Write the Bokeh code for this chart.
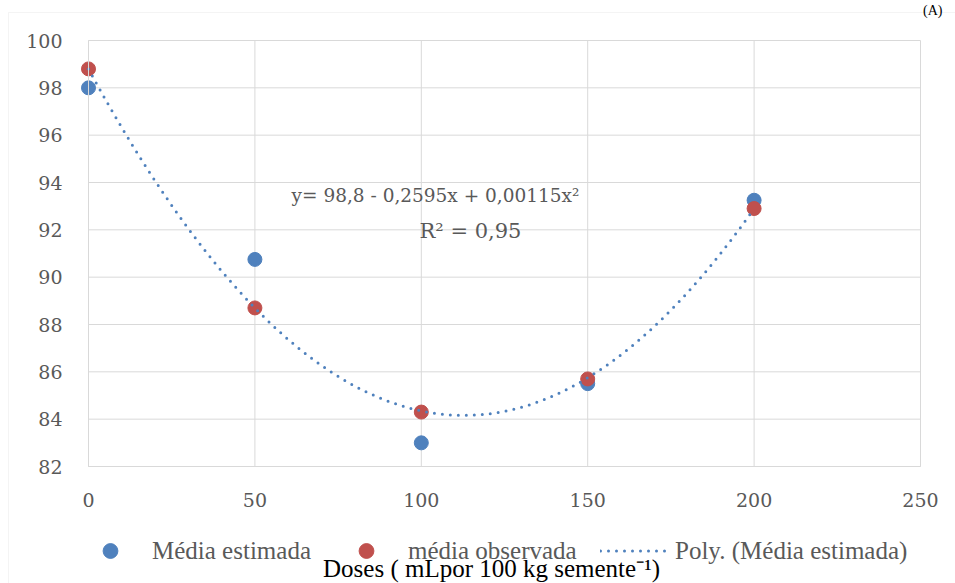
import numpy as np
from bokeh.plotting import figure
from bokeh.models import (Range1d, FixedTicker, Legend, LegendItem, Label,
                          BoxAnnotation)
from bokeh.embed import file_html
from bokeh.resources import INLINE

# ---- data ----
doses = [0, 50, 100, 150, 200]
media_estimada = [98.0, 90.75, 83.0, 85.5, 93.25]
media_observada = [98.8, 88.7, 84.3, 85.7, 92.9]
x_ticks = [0, 50, 100, 150, 200, 250]
y_ticks = [82, 84, 86, 88, 90, 92, 94, 96, 98, 100]
equation_text = "y= 98,8 - 0,2595x + 0,00115x\u00b2"
r2_text = "R\u00b2 = 0,95"
x_title = "Doses ( mLpor 100 kg semente\u207b\u00b9)"
panel_tag = "(A)"
legend_labels = ["Média estimada", "média observada", "Poly. (Média estimada)"]

BLUE = "#4F81BD"
RED = "#C0504D"
GRID = "#d9d9d9"
TXT = "#595959"

# ---- layout: plot area occupies pixels x 88..920, y 40..466 of a 955x583 canvas
W, H = 955, 583
PL, PR, PT, PB = 88, 920, 40, 466
XMIN, XMAX, YMIN, YMAX = 0, 250, 82, 100
sx = (XMAX - XMIN) / (PR - PL)
sy = (YMAX - YMIN) / (PB - PT)


def dx(px):
    return XMIN + (px - PL) * sx


def dy(py):
    return YMAX - (py - PT) * sy


# polynomial trend of "Média estimada" (order 2)
coef = np.polyfit(doses, media_estimada, 2)
xs = np.linspace(0, 200, 200)
ys = np.polyval(coef, xs)

p = figure(width=W, height=H, output_backend="svg", toolbar_location=None,
           x_range=Range1d(dx(0), dx(W)), y_range=Range1d(dy(H), dy(0)),
           min_border=0, min_border_left=0, min_border_right=0,
           min_border_top=0, min_border_bottom=0,
           background_fill_color="white", border_fill_color="white")
p.outline_line_color = None
p.title.visible = False
p.xgrid.visible = False
p.ygrid.visible = False

# outer chart border
p.add_layout(BoxAnnotation(left=dx(8), right=dx(W + 20), top=dy(12),
                           bottom=dy(H + 20), fill_alpha=0, fill_color=None,
                           line_color=GRID, line_width=1))

# plot-area grid (bounded to the data window)
nx, ny = len(x_ticks), len(y_ticks)
p.segment(x0=x_ticks, y0=[YMIN] * nx, x1=x_ticks, y1=[YMAX] * nx,
          line_color=GRID, line_width=1)
p.segment(x0=[XMIN] * ny, y0=y_ticks, x1=[XMAX] * ny, y1=y_ticks,
          line_color=GRID, line_width=1)

for ax in (p.xaxis, p.yaxis):
    ax.axis_line_color = GRID
    ax.major_tick_line_color = None
    ax.minor_tick_line_color = None
    ax.major_label_text_font = "DejaVu Serif"
    ax.major_label_text_font_size = "19px"
    ax.major_label_text_color = TXT

p.xaxis.fixed_location = YMIN
p.yaxis.fixed_location = XMIN
p.xaxis.bounds = (XMIN, XMAX)
p.yaxis.bounds = (YMIN, YMAX)
p.xaxis.ticker = FixedTicker(ticks=x_ticks)
p.yaxis.ticker = FixedTicker(ticks=y_ticks)
p.xaxis.major_label_standoff = 20
p.yaxis.major_label_standoff = 20

r_blue = p.scatter(doses, media_estimada, size=14, color=BLUE, line_color=BLUE)
r_red = p.scatter(doses, media_observada, size=14, color=RED, line_color=RED)
r_line = p.line(xs, ys, line_color=BLUE, line_width=3, line_dash="0 8",
                line_cap="round")

leg_common = dict(orientation="horizontal", glyph_height=37, label_height=37,
                  padding=0, margin=0, border_line_color=None,
                  background_fill_alpha=0, label_text_font="Liberation Serif",
                  label_text_font_size="25px", label_text_color=TXT)
for lab, rend, lx, gw, stand in zip(legend_labels, [r_blue, r_red, r_line],
                                    [82, 338, 600], [56, 56, 68], [14, 14, 7]):
    p.add_layout(Legend(items=[LegendItem(label=lab, renderers=[rend])],
                        location=(lx, 14), glyph_width=gw, label_standoff=stand,
                        **leg_common), "center")

p.add_layout(Label(x=dx(435), y=dy(195), text=equation_text, text_align="center",
                   text_baseline="middle", text_font="DejaVu Serif",
                   text_font_size="18.5px", text_color=TXT))
p.add_layout(Label(x=dx(470), y=dy(230), text=r2_text, text_align="center",
                   text_baseline="middle", text_font="DejaVu Serif",
                   text_font_size="21px", text_color=TXT))
p.add_layout(Label(x=dx(491), y=dy(568), text=x_title, text_align="center",
                   text_baseline="middle", text_font="Liberation Serif",
                   text_font_size="25px", text_color="black"))
p.add_layout(Label(x=dx(942), y=dy(10), text=panel_tag, text_align="right",
                   text_baseline="alphabetic", text_font="Liberation Serif",
                   text_font_size="14px", text_color="black"))

open("out.html", "w").write(file_html(p, INLINE))
